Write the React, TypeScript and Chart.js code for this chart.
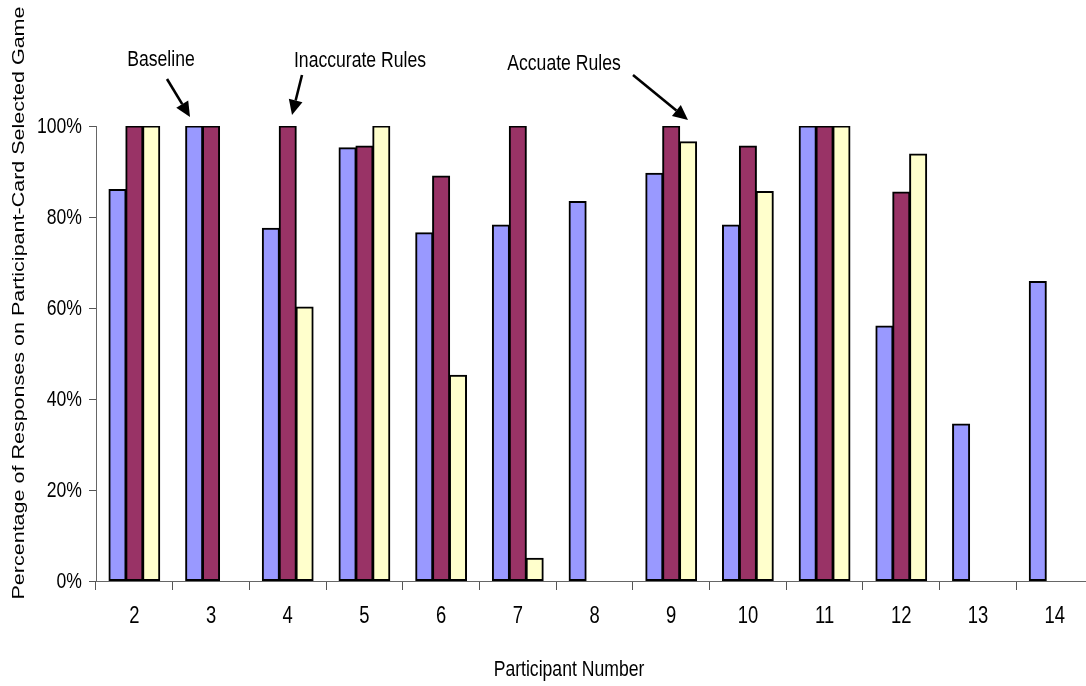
import React, { useEffect, useRef } from "react";
import { Chart, registerables } from "chart.js";

Chart.register(...registerables);

const categories = ["2", "3", "4", "5", "6", "7", "8", "9", "10", "11", "12", "13", "14"];
const baselineValues = [86, 100, 77.5, 95.2, 76.5, 78.2, 83.4, 89.6, 78.2, 100, 56, 34.5, 65.8];
const inaccurateValues = [100, 100, 100, 95.6, 89, 100, null, 100, 95.6, 100, 85.5, null, null];
const accurateValues = [100, null, 60.2, 100, 45.2, 5, null, 96.5, 85.6, 100, 93.8, null, null];
const yTicks = [0, 20, 40, 60, 80, 100];

const yTitle = "Percentage of Responses on Participant-Card Selected Game";
const xTitle = "Participant Number";
const annotations = [
  { text: "Baseline", x: 161, y: 60, from: [167, 79], to: [190, 117] },
  { text: "Inaccurate Rules", x: 360, y: 61, from: [302, 75], to: [292, 115] },
  { text: "Accuate Rules", x: 564, y: 64, from: [633, 75], to: [688, 120] },
];

const FONT = "'Liberation Sans', Arial, sans-serif";
const SQUEEZE = 0.8;

function narrowText(
  ctx: CanvasRenderingContext2D,
  text: string,
  x: number,
  y: number,
  size: number,
  align: CanvasTextAlign,
  rotate = 0,
  sx = SQUEEZE
) {
  ctx.save();
  ctx.translate(x, y);
  if (rotate) ctx.rotate(rotate);
  ctx.scale(sx, 1);
  ctx.font = `${size}px ${FONT}`;
  ctx.textAlign = align;
  ctx.textBaseline = "middle";
  ctx.fillStyle = "#000";
  ctx.fillText(text, 0, 0);
  ctx.restore();
}

function arrow(ctx: CanvasRenderingContext2D, from: number[], to: number[]) {
  const [x1, y1] = from;
  const [x2, y2] = to;
  const ang = Math.atan2(y2 - y1, x2 - x1);
  const headLen = 15;
  const headW = 7;
  const bx = x2 - headLen * Math.cos(ang);
  const by = y2 - headLen * Math.sin(ang);
  ctx.save();
  ctx.strokeStyle = "#000";
  ctx.fillStyle = "#000";
  ctx.lineWidth = 2.6;
  ctx.beginPath();
  ctx.moveTo(x1, y1);
  ctx.lineTo(bx, by);
  ctx.stroke();
  ctx.beginPath();
  ctx.moveTo(x2, y2);
  ctx.lineTo(bx + headW * Math.sin(ang), by - headW * Math.cos(ang));
  ctx.lineTo(bx - headW * Math.sin(ang), by + headW * Math.cos(ang));
  ctx.closePath();
  ctx.fill();
  ctx.restore();
}

const textPlugin = {
  id: "customText",
  afterDraw(chart: any) {
    const ctx: CanvasRenderingContext2D = chart.ctx;
    const xs = chart.scales.x;
    const ys = chart.scales.y;
    for (const v of yTicks) {
      narrowText(ctx, `${v}%`, 82, ys.getPixelForValue(v) + 1, 22, "right");
    }
    categories.forEach((c, i) => {
      narrowText(ctx, c, xs.getPixelForTick(i), 617, 23, "center");
    });
    for (const a of annotations) {
      narrowText(ctx, a.text, a.x, a.y, 22, "center");
      arrow(ctx, a.from, a.to);
    }
    narrowText(ctx, xTitle, 569, 670, 22, "center");
    ctx.save();
    ctx.font = `17px ${FONT}`;
    const w = ctx.measureText(yTitle).width;
    ctx.restore();
    narrowText(ctx, yTitle, 19, 303, 17, "center", -Math.PI / 2, 593 / w);
  },
};

export default function App() {
  const ref = useRef<HTMLCanvasElement>(null);
  useEffect(() => {
    if (!ref.current) return;
    const common = { borderColor: "#000", borderWidth: 2, borderSkipped: false, inflateAmount: 0.6 };
    const chart = new Chart(ref.current, {
      type: "bar",
      data: {
        labels: categories,
        datasets: [
          { label: "Baseline", data: baselineValues, backgroundColor: "#9999FF", ...common },
          { label: "Inaccurate Rules", data: inaccurateValues as any, backgroundColor: "#993366", ...common },
          { label: "Accurate Rules", data: accurateValues as any, backgroundColor: "#FFFFCC", ...common },
        ],
      },
      options: {
        responsive: false,
        animation: false,
        devicePixelRatio: 1,
        layout: { padding: { top: 126, left: 0, right: 0, bottom: 0 } },
        categoryPercentage: 0.66,
        barPercentage: 1,
        plugins: { legend: { display: false }, tooltip: { enabled: false } },
        scales: {
          x: {
            grid: { display: true, drawOnChartArea: false, drawTicks: true, tickLength: 9, color: "#555", offset: true },
            border: { display: true, color: "#666", width: 1 },
            ticks: { display: false, autoSkip: false },
            afterFit: (s: any) => { s.height = 105; },
          },
          y: {
            min: 0,
            max: 100,
            afterBuildTicks: (s: any) => { s.ticks = yTicks.map((v) => ({ value: v })); },
            grid: { display: true, drawOnChartArea: false, drawTicks: true, tickLength: 7, color: "#555" },
            border: { display: true, color: "#666", width: 1 },
            ticks: { display: false },
            afterFit: (s: any) => { s.width = 96; },
          },
        },
      } as any,
      plugins: [textPlugin],
    });
    return () => chart.destroy();
  }, []);
  return (
    <div style={{ position: "absolute", left: 0, top: 0, width: 1086, height: 686, overflow: "hidden", background: "#fff" }}>
      <canvas ref={ref} width={1093} height={686} style={{ display: "block", width: 1093, height: 686 }} />
    </div>
  );
}
